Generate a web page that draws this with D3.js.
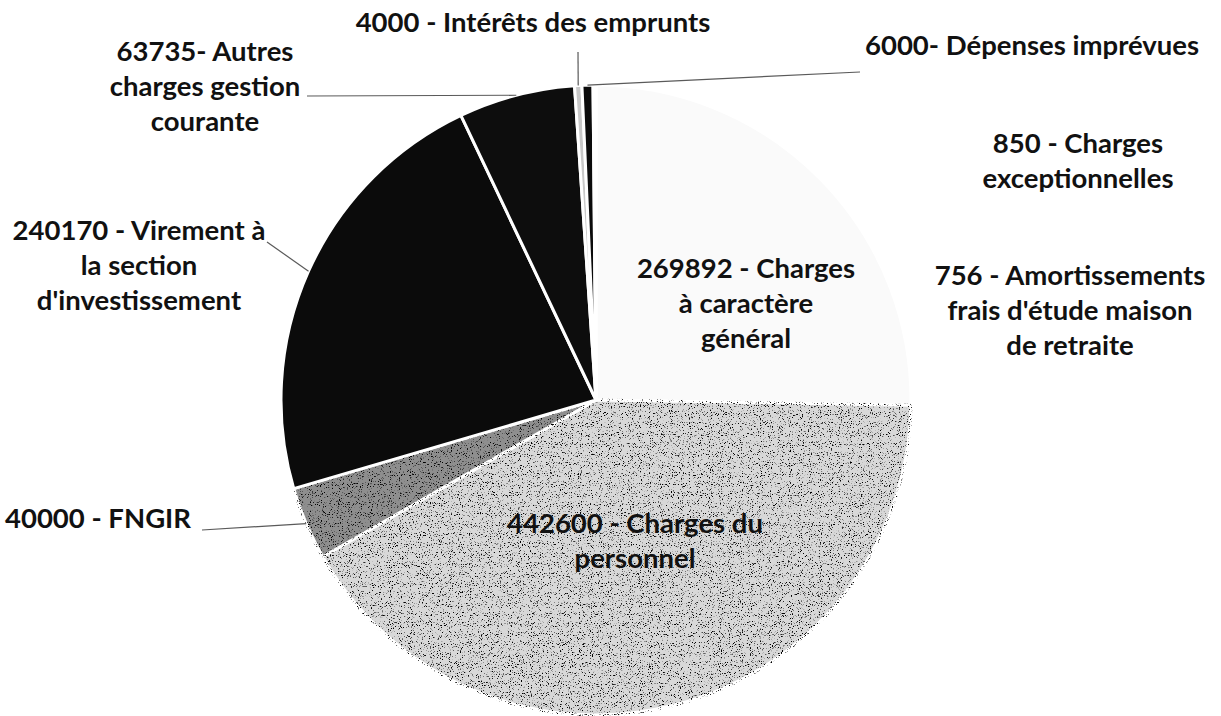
<!DOCTYPE html>
<html>
<head>
<meta charset="utf-8">
<script src="https://cdn.jsdelivr.net/npm/d3@7"></script>
<style>
  body { margin: 0; background: #fff; }
  text { font-family: Lato, "Open Sans", sans-serif; font-weight: 700; fill: #111; }
</style>
</head>
<body>
<div id="img"></div>
<script>
// valeurs du budget (section de fonctionnement)
const codes = ["269892", "442600", "40000", "240170", "63735", "4000", "6000", "850", "756"];
const values = [269892, 442600, 40000, 240170, 63735, 4000, 6000, 850, 756];
const labels = [
    ["269892 - Charges", "à caractère", "général"],
    ["442600 - Charges du", "personnel"],
    ["40000 - FNGIR"],
    ["240170 - Virement à", "la section", "d'investissement"],
    ["63735- Autres", "charges gestion", "courante"],
    ["4000 - Intérêts des emprunts"],
    ["6000- Dépenses imprévues"],
    ["850 - Charges", "exceptionnelles"],
    ["756 - Amortissements", "frais d'étude maison", "de retraite"]
];
const shades = ["#fafafa", "#d8d8d8", "#8e8e8e", "#0b0b0b", "#0d0d0d", "#c8c8c8", "#0b0b0b", "#ffffff", "#ffffff"];
const grainy = [false, true, true, false, false, false, false, false, false];

// placement des étiquettes (relatif au centre du camembert)
const labelLayout = [
    {dx: 150, dy: -122, anchor: "middle", line: false},
    {dx: 39, dy: 133, anchor: "middle", line: false},
    {dx: -591, dy: 128, anchor: "start", line: true, lx: -394, ly: 130},
    {dx: -457, dy: -160, anchor: "middle", line: true, lx: -329, ly: -158},
    {dx: -391, dy: -339, anchor: "middle", line: true, lx: -289, ly: -304},
    {dx: -63, dy: -368, anchor: "middle", line: true, lx: -18, ly: -348},
    {dx: 269, dy: -345, anchor: "start", line: true, lx: 264, ly: -328},
    {dx: 482, dy: -247, anchor: "middle", line: false},
    {dx: 474, dy: -115, anchor: "middle", line: false}
];

const W = 1221, H = 716;
const cx = 596, cy = 400, R = 315;
const lineH = 35;

var svg = d3.select("#img").append("svg")
    .attr("width", W)
    .attr("height", H);

// grain de numérisation sur les secteurs gris
var f = svg.append("defs").append("filter")
    .attr("id", "grain")
    .attr("x", "-5%").attr("y", "-5%")
    .attr("width", "110%").attr("height", "110%")
    .attr("color-interpolation-filters", "sRGB");
f.append("feTurbulence")
    .attr("type", "fractalNoise")
    .attr("baseFrequency", 0.9)
    .attr("numOctaves", 2)
    .attr("seed", 5)
    .attr("result", "noise");
f.append("feColorMatrix")
    .attr("in", "noise")
    .attr("type", "matrix")
    .attr("values", "0 0 0 0 0  0 0 0 0 0  0 0 0 0 0  7 0 0 0 -4.2")
    .attr("result", "dots");
f.append("feComposite")
    .attr("in", "dots")
    .attr("in2", "SourceGraphic")
    .attr("operator", "in")
    .attr("result", "clip");
var m = f.append("feMerge");
m.append("feMergeNode").attr("in", "SourceGraphic");
m.append("feMergeNode").attr("in", "clip");

var g = svg.append("g")
    .attr("transform", "translate(" + cx + "," + cy + ")");

var pie = d3.pie()
    .sort(null)
    .value(function(d) { return d; });

var arc = d3.arc()
    .innerRadius(0)
    .outerRadius(R);

var edge = d3.arc()
    .innerRadius(R)
    .outerRadius(R);

var arcs = pie(values);

// secteurs
g.selectAll("path.slice")
    .data(arcs)
    .enter()
    .append("path")
    .attr("class", "slice")
    .attr("d", arc)
    .attr("fill", function(d, i) { return shades[i]; })
    .attr("filter", function(d, i) { return grainy[i] ? "url(#grain)" : null; })
    .attr("stroke", "#fff")
    .attr("stroke-width", 3)
    .attr("stroke-linejoin", "round");

// traits de rappel
g.selectAll("path.leader")
    .data(arcs.filter(function(d, i) { return labelLayout[i].line; }))
    .enter()
    .append("path")
    .attr("class", "leader")
    .attr("fill", "none")
    .attr("stroke", "#5a5a5a")
    .attr("stroke-width", 1.2)
    .attr("d", function(d) {
        var p = edge.centroid(d);
        var L = labelLayout[d.index];
        return "M" + p[0] + "," + p[1] + "L" + L.lx + "," + L.ly;
    });

// étiquettes
var t = g.selectAll("text.lbl")
    .data(arcs)
    .enter()
    .append("text")
    .attr("class", "lbl")
    .attr("x", function(d) { return labelLayout[d.index].dx; })
    .attr("y", function(d) { return labelLayout[d.index].dy; })
    .attr("text-anchor", function(d) { return labelLayout[d.index].anchor; })
    .style("font-size", "27.5px");

t.selectAll("tspan")
    .data(function(d) { return labels[d.index].map(function(s) { return {s: s, d: d}; }); })
    .enter()
    .append("tspan")
    .attr("x", function(o) { return labelLayout[o.d.index].dx; })
    .attr("dy", function(o, j) { return j == 0 ? 0 : lineH; })
    .text(function(o) { return o.s; });
</script>
</body>
</html>
